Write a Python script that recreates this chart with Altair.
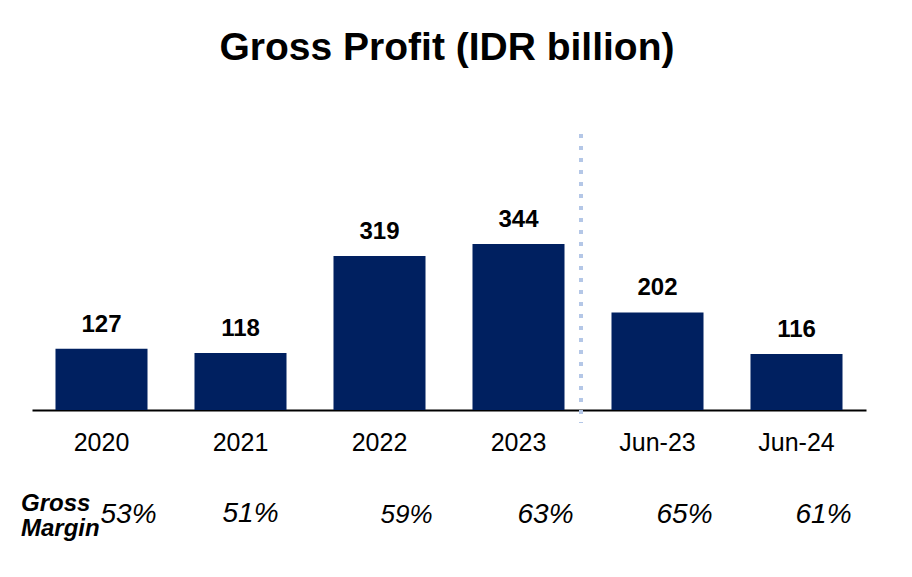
import altair as alt
import pandas as pd

categories = ["2020", "2021", "2022", "2023", "Jun-23", "Jun-24"]
gross_profit = [127, 118, 319, 344, 202, 116]
gross_margin = ["53%", "51%", "59%", "63%", "65%", "61%"]

df = pd.DataFrame({"category": categories, "profit": gross_profit, "margin": gross_margin})

FONT = "Liberation Sans, Arial, Helvetica, sans-serif"
NAVY = "#002060"

x = alt.X(
    "category:N",
    sort=categories,
    scale=alt.Scale(paddingInner=0.338, paddingOuter=0.169),
    axis=alt.Axis(
        title=None,
        labelAngle=0,
        labelFont=FONT,
        labelFontSize=25,
        labelColor="#000000",
        labelBaseline="alphabetic",
        labelPadding=40,
        ticks=False,
        tickSize=0,
        domainColor="#000000",
        domainWidth=2,
        grid=False,
    ),
)
y = alt.Y("profit:Q", scale=alt.Scale(domain=[0, 642], nice=False), axis=None)

base = alt.Chart(df)

bars = base.mark_bar(color=NAVY).encode(x=x, y=y)

values = base.mark_text(
    font=FONT, fontSize=24, fontWeight="bold", baseline="alphabetic", dy=-17, color="#000000"
).encode(x=x, y=y, text="profit:Q")

margin_size = alt.condition("datum.category == '2022'", alt.value(26), alt.value(28))

margins_a = base.transform_filter("datum.category != '2021'").mark_text(
    font=FONT, fontStyle="italic", baseline="alphabetic", dx=27, color="#000000"
).encode(x=x, y=alt.value(423), text="margin:N", size=margin_size)

margins_b = base.transform_filter("datum.category == '2021'").mark_text(
    font=FONT, fontStyle="italic", fontSize=28, baseline="alphabetic", dx=10, color="#000000"
).encode(x=x, y=alt.value(422), text="margin:N")

gm1 = alt.Chart(pd.DataFrame({"t": ["Gross"]})).mark_text(
    font=FONT, fontStyle="italic", fontWeight="bold", fontSize=24, align="left",
    baseline="alphabetic", color="#000000"
).encode(x=alt.value(-11), y=alt.value(411), text="t:N")

gm2 = alt.Chart(pd.DataFrame({"t": ["Margin"]})).mark_text(
    font=FONT, fontStyle="italic", fontWeight="bold", fontSize=24, align="left",
    baseline="alphabetic", color="#000000"
).encode(x=alt.value(-11), y=alt.value(436), text="t:N")

divider = alt.Chart(pd.DataFrame({"d": [0]})).mark_rule(
    color="#B4C7E7", strokeWidth=4, strokeDash=[4, 8]
).encode(x=alt.value(549), y=alt.value(34), y2=alt.value(323))

chart = alt.layer(bars, values, margins_a, margins_b, gm1, gm2, divider).properties(
    width=834,
    height=310,
    background="#ffffff",
    autosize=alt.AutoSizeParams(type="none"),
    padding={"left": 24, "top": 92, "right": 30, "bottom": 150},
    title=alt.TitleParams(
        "Gross Profit (IDR billion)",
        font=FONT,
        fontSize=39,
        fontWeight="bold",
        color="#000000",
        anchor="middle",
        baseline="alphabetic",
        offset=1,
        dx=-2,
    ),
).configure_view(stroke=None)

chart.save("out.html", embed_options={"renderer": "svg", "actions": False})
